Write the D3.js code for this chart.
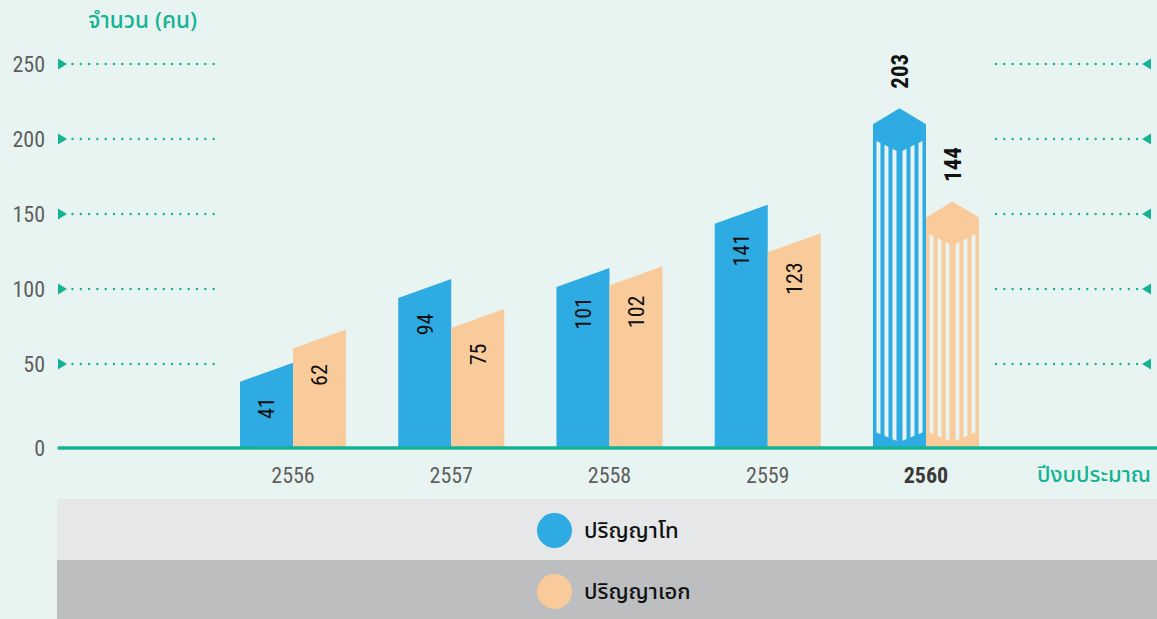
<!DOCTYPE html>
<html>
<head>
<meta charset="utf-8">
<script src="https://cdn.jsdelivr.net/npm/d3@7"></script>
<style>
  html, body { margin: 0; padding: 0; background: #e8f4f1; }
  svg { display: block; }
  .num { font-family: "Liberation Sans Narrow", "Roboto Condensed", Roboto, sans-serif; }
  .thai { font-family: "Noto Sans Thai", "Noto Sans", "Leelawadee UI", sans-serif; }
</style>
</head>
<body>
<div id="chart"></div>
<script>
  // data
  var years = ["2556", "2557", "2558", "2559", "2560"];
  var masters = [41, 94, 101, 141, 203];
  var doctoral = [62, 75, 102, 123, 144];
  var yTicks = [0, 50, 100, 150, 200, 250];
  var seriesNames = ["ปริญญาโท", "ปริญญาเอก"];
  var seriesColors = ["#2eabe2", "#f9cb9b"];
  var highlightYear = "2560";
  var yTitle = "จำนวน (คน)";
  var xTitle = "ปีงบประมาณ";

  var W = 1157, H = 619;
  var bg = "#e8f4f1", teal = "#14b393", grey = "#5e5e5e";
  var base = 448;

  var svg = d3.select("#chart").append("svg")
      .attr("width", W)
      .attr("height", H);

  svg.append("rect").attr("width", W).attr("height", H).attr("fill", bg);

  var x = d3.scaleBand().domain(years).range([240, 979]).paddingInner(0.33).paddingOuter(0);
  var xSub = d3.scaleBand().domain([0, 1]).range([0, x.bandwidth()]);
  // gridline scale and bar scale (the bars in the artwork are drawn a bit taller than the grid)
  var yTick = d3.scaleLinear().domain([0, 250]).range([439, 64]);
  var yBar = d3.scaleLinear().domain([0, 250]).range([437, 42]);

  var rows = years.map(function (yr, i) {
    return [
      { year: yr, s: 0, v: masters[i] },
      { year: yr, s: 1, v: doctoral[i] }
    ];
  });
  var bars = d3.merge(rows);

  // ---- gridlines: arrows + dots, left and right
  var gl = svg.append("g");
  var ticks = yTicks.filter(function (d) { return d > 0; });
  ticks.forEach(function (t) {
    var yy = yTick(t);
    gl.append("path")
      .attr("d", "M58," + (yy - 5.5) + "L67," + yy + "L58," + (yy + 5.5) + "Z")
      .attr("fill", teal);
    gl.append("line")
      .attr("x1", 72.5).attr("x2", 215).attr("y1", yy).attr("y2", yy)
      .attr("stroke", teal).attr("stroke-width", 2.4)
      .attr("stroke-linecap", "round").attr("stroke-dasharray", "0 8.3");
    gl.append("line")
      .attr("x1", 996).attr("x2", 1138).attr("y1", yy).attr("y2", yy)
      .attr("stroke", teal).attr("stroke-width", 2.4)
      .attr("stroke-linecap", "round").attr("stroke-dasharray", "0 8.3");
    gl.append("path")
      .attr("d", "M1151," + (yy - 5.5) + "L1142," + yy + "L1151," + (yy + 5.5) + "Z")
      .attr("fill", teal);
  });

  // tick labels
  svg.append("g").selectAll("text")
    .data(yTicks)
    .enter().append("text")
      .attr("class", "num")
      .attr("x", 45)
      .attr("y", function (d) { return d === 0 ? base : yTick(d); })
      .attr("dy", "0.36em")
      .attr("text-anchor", "end")
      .attr("fill", grey)
      .style("font-size", "22px")
      .text(function (d) { return d; });

  svg.append("text")
    .attr("class", "thai")
    .attr("x", 197).attr("y", 28)
    .attr("text-anchor", "end")
    .attr("fill", teal)
    .style("font-size", "22.5px")
    .style("font-weight", "500")
    .text(yTitle);

  // ---- bars
  function barPath(d) {
    var x0 = x(d.year) + xSub(d.s), x1 = x0 + xSub.bandwidth(), xc = (x0 + x1) / 2;
    var t = yBar(d.v);
    if (d.year === highlightYear) {
      return "M" + x0 + "," + base + "L" + x0 + "," + (t + 8) + "L" + xc + "," + (t - 8) +
        "L" + x1 + "," + (t + 8) + "L" + x1 + "," + base + "Z";
    }
    return "M" + x0 + "," + base + "L" + x0 + "," + (t + 9.5) + "L" + x1 + "," + (t - 9.5) +
      "L" + x1 + "," + base + "Z";
  }

  var barG = svg.append("g");
  barG.selectAll("path.bar")
    .data(bars)
    .enter().append("path")
      .attr("class", "bar")
      .attr("d", barPath)
      .attr("fill", function (d) { return seriesColors[d.s]; });

  // stripes on the highlighted year
  var defs = svg.append("defs");
  var hl = bars.filter(function (d) { return d.year === highlightYear; });
  var stripeOffsets = [3.5, 11.5, 19.5, 29.5, 37.5, 45.5];
  hl.forEach(function (d, i) {
    var x0 = x(d.year) + xSub(d.s), x1 = x0 + xSub.bandwidth(), xc = (x0 + x1) / 2;
    var sh = yBar(d.v) + 8;
    defs.append("clipPath").attr("id", "clip" + i)
      .append("path")
      .attr("d", "M" + x0 + "," + (sh + 15) + "L" + xc + "," + (sh + 28) + "L" + x1 + "," + (sh + 15) +
        "L" + x1 + "," + (base - 17) + "L" + xc + "," + (base - 6) + "L" + x0 + "," + (base - 17) + "Z");
    barG.append("g").attr("clip-path", "url(#clip" + i + ")")
      .selectAll("rect")
      .data(stripeOffsets)
      .enter().append("rect")
        .attr("x", function (o) { return x0 + o * xSub.bandwidth() / 53; })
        .attr("width", 4)
        .attr("y", sh)
        .attr("height", base - sh)
        .attr("fill", bg);
  });

  // value labels
  svg.append("g").selectAll("text")
    .data(bars)
    .enter().append("text")
      .attr("class", "num")
      .attr("transform", function (d) {
        var cx = x(d.year) + xSub(d.s) + xSub.bandwidth() / 2;
        var cy = d.year === highlightYear ? yBar(d.v) - 45 : yBar(d.v) + 36;
        return "translate(" + cx + "," + cy + ") rotate(-90)";
      })
      .attr("text-anchor", "middle")
      .attr("dy", "0.36em")
      .attr("fill", "#111")
      .style("font-size", function (d) { return d.year === highlightYear ? "23px" : "22px"; })
      .style("font-weight", function (d) { return d.year === highlightYear ? "bold" : "normal"; })
      .text(function (d) { return d.v; });

  // baseline
  svg.append("line")
    .attr("x1", 59).attr("x2", W).attr("y1", base).attr("y2", base)
    .attr("stroke", teal).attr("stroke-width", 3.5).attr("stroke-linecap", "round");

  // year labels
  svg.append("g").selectAll("text")
    .data(years)
    .enter().append("text")
      .attr("class", "num")
      .attr("x", function (d) { return x(d) + x.bandwidth() / 2; })
      .attr("y", 483)
      .attr("text-anchor", "middle")
      .attr("fill", function (d) { return d === highlightYear ? "#3a3a3a" : grey; })
      .style("font-size", "22px")
      .style("font-weight", function (d) { return d === highlightYear ? "bold" : "normal"; })
      .text(function (d) { return d; });

  svg.append("text")
    .attr("class", "thai")
    .attr("x", 1151).attr("y", 482)
    .attr("text-anchor", "end")
    .attr("fill", teal)
    .style("font-size", "22px")
    .style("font-weight", "500")
    .text(xTitle);

  // ---- legend bands
  var bandColors = ["#e5e7e8", "#bdbec0"];
  var lg = svg.append("g");
  seriesNames.forEach(function (name, i) {
    var top = 499 + i * 61;
    lg.append("rect")
      .attr("x", 57).attr("y", top).attr("width", W - 57).attr("height", i === 0 ? 61 : H - top)
      .attr("fill", bandColors[i]);
    lg.append("circle")
      .attr("cx", 554.5).attr("cy", top + 31.5).attr("r", 17.5)
      .attr("fill", seriesColors[i]);
    lg.append("text")
      .attr("class", "thai")
      .attr("x", 584).attr("y", top + 31.5)
      .attr("dy", "0.36em")
      .attr("fill", "#111")
      .style("font-size", "22px")
      .style("font-weight", "500")
      .text(name);
  });
</script>
</body>
</html>
